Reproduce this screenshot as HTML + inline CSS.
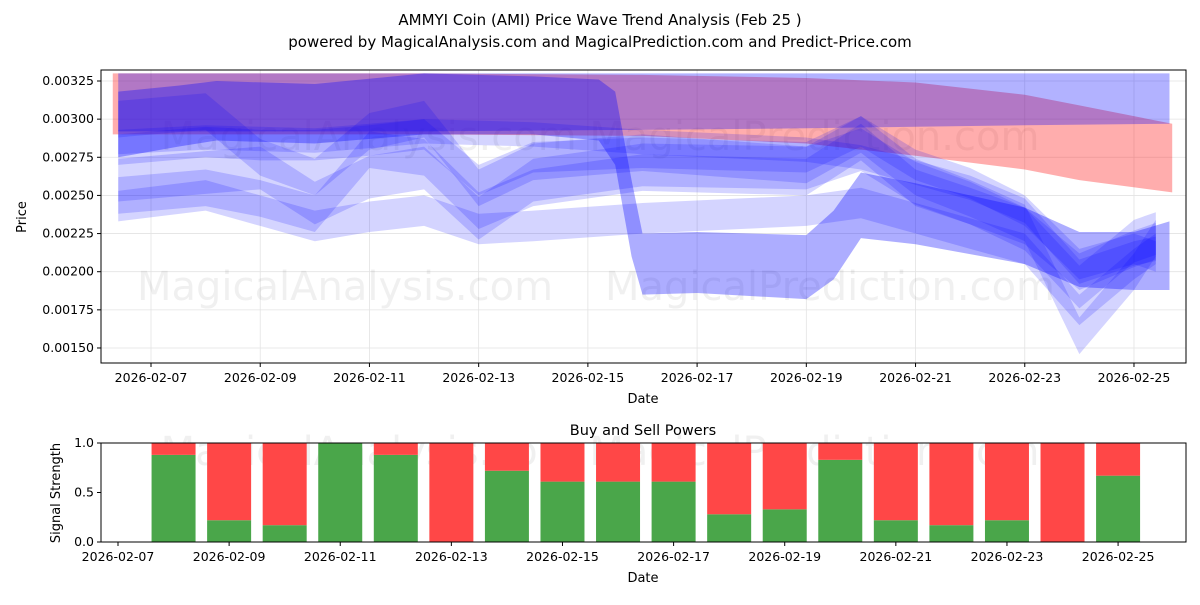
<!DOCTYPE html>
<html><head><meta charset="utf-8"><style>
body{margin:0;background:#fff;font-family:"Liberation Sans","DejaVu Sans",sans-serif}
svg text{font-family:"DejaVu Sans","Liberation Sans",sans-serif}
</style></head><body>
<svg id="c" width="1200" height="600" viewBox="0 0 1200 600">
<rect width="1200" height="600" fill="#fff"/>
<text x="600" y="25" text-anchor="middle" font-size="15">AMMYI Coin (AMI) Price Wave Trend Analysis (Feb 25 )</text>
<text x="600" y="47" text-anchor="middle" font-size="15">powered by MagicalAnalysis.com and MagicalPrediction.com and Predict-Price.com</text>
<g id="topg"></g>
<g id="botg"></g>
</svg>
<script>
// ---- data ----
const topTicksY=[0.0015,0.00175,0.002,0.00225,0.0025,0.00275,0.003,0.00325];
const topTickLabels=["0.00150","0.00175","0.00200","0.00225","0.00250","0.00275","0.00300","0.00325"];
const dateTicks=["2026-02-07","2026-02-09","2026-02-11","2026-02-13","2026-02-15","2026-02-17","2026-02-19","2026-02-21","2026-02-23","2026-02-25"];
// day offsets from Feb 7; values in 1e-5 price units
const redDays=[-0.7,2,5,9,12,14,16,17,18.7];
const redTop=[330,330,330,329,327,324,316,309,297];
const redBot=[290,290,290,289,284,276,267,260,252];
const paleDays=[-0.6,5,9,12,16,18.65];
const paleTop=[330,330,330,330,330,330];
const paleBot=[292,292,293,294,296,297];
const bigDays=[-0.6,0.5,1.2,3,5,7,8.2,8.5,8.8,9,10,12,12.5,13,14,16,17,18,18.65];
const bigTop=[318,322,325,323,330,328,326,318,260,225,226,224,240,265,258,242,226,226,233];
const bigBot=[275,282,286,284,290,290,286,270,210,185,186,182,195,222,218,205,190,188,188];
const waveDays=[-0.6,1,2,3,4,5,6,7,9,12,13,14,15,16,17,18,18.4];
const wave1=[280,285,283,283,286,290,260,275,278,275,292,270,258,240,205,215,210];
const wave2=[250,255,248,238,280,275,240,255,265,262,285,255,243,230,200,215,220];
const wave3=[243,250,240,230,236,240,228,230,235,240,245,235,225,215,175,205,215];
const wave4=[260,265,268,245,262,268,235,260,270,268,280,258,245,228,190,220,225];
const wave5=[285,288,287,286,289,292,291,290,285,280,275,265,255,240,200,212,215];
const wave6=[300,305,275,262,292,300,255,272,278,270,290,262,248,232,158,200,222];
const barDays=[1,2,3,4,5,6,7,8,9,10,11,12,13,14,15,16,17,18];
const buyPower=[0.88,0.22,0.17,1.0,0.88,0.0,0.72,0.61,0.61,0.61,0.28,0.33,0.83,0.22,0.17,0.22,0.0,0.67];
const botTicksY=[0,0.5,1.0];
const botTickLabels=["0.0","0.5","1.0"];

const NS="http://www.w3.org/2000/svg";
function el(tag,attrs,parent){const e=document.createElementNS(NS,tag);for(const k in attrs)e.setAttribute(k,attrs[k]);parent.appendChild(e);return e;}
const T={l:101,r:1186,t:70,b:363};
const xT=d=>151+d*54.61;
const yT=v=>81+(0.00325-v)/0.00025*38.14;
const yV=v=>yT(v*1e-5);
const topG=document.getElementById('topg');
for(let i=0;i<dateTicks.length;i++){const x=xT(i*2);
 const g=el('line',{x1:x,x2:x,y1:T.t,y2:T.b,stroke:'#e3e3e3','stroke-width':0.8},topG);
 }
for(let i=0;i<topTicksY.length;i++){const y=yT(topTicksY[i]);
 const g=el('line',{x1:T.l,x2:T.r,y1:y,y2:y,stroke:'#e3e3e3','stroke-width':0.8},topG);
 }
[[345,300,'MagicalAnalysis.com'],[830,300,'MagicalPrediction.com'],[600,150,'MagicalAnalysis.com          MagicalPrediction.com']].forEach(w=>{
 const t=el('text',{x:w[0],y:w[1],'text-anchor':'middle','font-size':40,fill:'#000','fill-opacity':0.06},topG);t.textContent=w[2];
 });
function band(days,up,lo,color,op,name){
 let d='M'+days.map((x,i)=>xT(x)+','+yV(up[i])).join('L');
 d+='L'+days.map((x,i)=>[xT(x),yV(lo[i])]).reverse().map(p=>p.join(',')).join('L')+'Z';
 const p=el('path',{d:d,fill:color,'fill-opacity':op,'stroke-linejoin':'round'},topG);
 }
band(redDays,redTop,redBot,'#ff0000',0.32,'red-band');
band(paleDays,paleTop,paleBot,'#0000ff',0.3,'pale-blue-band');
band(bigDays,bigTop,bigBot,'#0000ff',0.32,'main-blue-band');
const waves=[wave1,wave2,wave3,wave4,wave5,wave6];
const hw=[10,12,10,14,8,12];
waves.forEach((w,k)=>{
 band(waveDays,w.map(v=>v+hw[k]),w.map(v=>v-hw[k]),'#0000ff',0.17,'wave-band-'+(k+1));
});
let fr=el('rect',{x:T.l,y:T.t,width:T.r-T.l,height:T.b-T.t,fill:'none',stroke:'#000','stroke-width':1},topG);

for(let i=0;i<topTicksY.length;i++){const y=yT(topTicksY[i]);
 el('line',{x1:T.l-4,x2:T.l,y1:y,y2:y,stroke:'#000'},topG);
 const t=el('text',{x:T.l-7,y:y+4,'text-anchor':'end','font-size':12.5},topG);t.textContent=topTickLabels[i];
 }
for(let i=0;i<dateTicks.length;i++){const x=xT(i*2);
 el('line',{x1:x,x2:x,y1:T.b,y2:T.b+4,stroke:'#000'},topG);
 const t=el('text',{x:x,y:T.b+19,'text-anchor':'middle','font-size':12.5},topG);t.textContent=dateTicks[i];
 }
let t1=el('text',{x:643,y:403,'text-anchor':'middle','font-size':13},topG);t1.textContent='Date';

let t2=el('text',{x:26,y:217,'text-anchor':'middle','font-size':13,transform:'rotate(-90 26 217)'},topG);t2.textContent='Price';


const B={l:101,r:1186,t:443,b:542};
const xB=d=>118+d*55.56;
const yB=v=>B.b-v*(B.b-B.t);
const botG=document.getElementById('botg');
let wm=el('text',{x:600,y:465,'text-anchor':'middle','font-size':40,fill:'#000','fill-opacity':0.06},botG);wm.textContent='MagicalAnalysis.com          MagicalPrediction.com';

barDays.forEach((d,i)=>{const x=xB(d)-22,w=44;
 const g=el('rect',{x:x,y:yB(buyPower[i]),width:w,height:yB(0)-yB(buyPower[i]),fill:'#4aa64a'},botG);
 
 const r=el('rect',{x:x,y:yB(1),width:w,height:yB(buyPower[i])-yB(1),fill:'#ff4747'},botG);
 });
let fr2=el('rect',{x:B.l,y:B.t,width:B.r-B.l,height:B.b-B.t,fill:'none',stroke:'#000','stroke-width':1},botG);

for(let i=0;i<botTicksY.length;i++){const y=yB(botTicksY[i]);
 el('line',{x1:B.l-4,x2:B.l,y1:y,y2:y,stroke:'#000'},botG);
 const t=el('text',{x:B.l-7,y:y+4,'text-anchor':'end','font-size':12.5},botG);t.textContent=botTickLabels[i];
 }
for(let i=0;i<dateTicks.length;i++){const x=xB(i*2);
 el('line',{x1:x,x2:x,y1:B.b,y2:B.b+4,stroke:'#000'},botG);
 const t=el('text',{x:x,y:B.b+19,'text-anchor':'middle','font-size':12.5},botG);t.textContent=dateTicks[i];
 }
let t3=el('text',{x:643,y:435,'text-anchor':'middle','font-size':14.5},botG);t3.textContent='Buy and Sell Powers';

let t4=el('text',{x:643,y:582,'text-anchor':'middle','font-size':13},botG);t4.textContent='Date';

let t5=el('text',{x:60,y:493,'text-anchor':'middle','font-size':13,transform:'rotate(-90 60 493)'},botG);t5.textContent='Signal Strength';

</script>
</body></html>
